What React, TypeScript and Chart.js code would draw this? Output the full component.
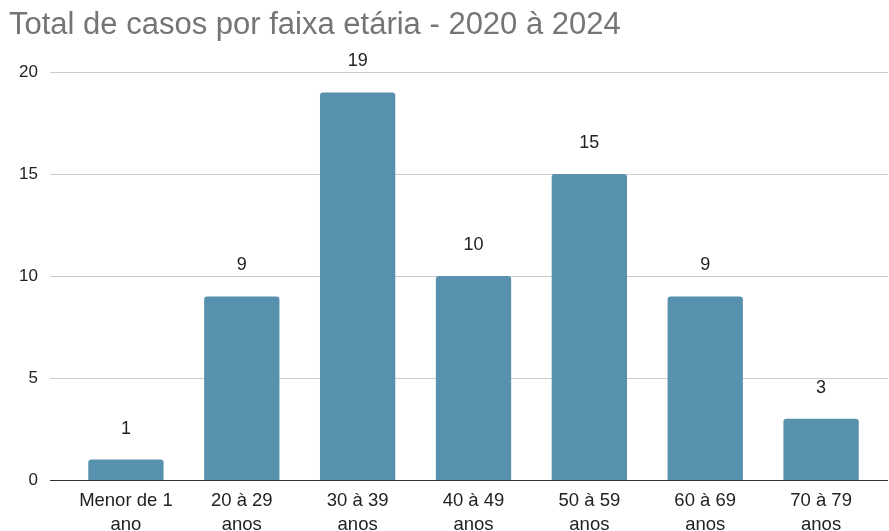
import React, { useEffect, useRef } from "react";
import { Chart, registerables } from "chart.js";

Chart.register(...registerables);

const TITLE = "Total de casos por faixa etária - 2020 à 2024";
const CATEGORIES: string[][] = [
  ["Menor de 1", "ano"],
  ["20 à 29", "anos"],
  ["30 à 39", "anos"],
  ["40 à 49", "anos"],
  ["50 à 59", "anos"],
  ["60 à 69", "anos"],
  ["70 à 79", "anos"],
];
const CASES: number[] = [1, 9, 19, 10, 15, 9, 3];
const Y_MAX = 20;
const Y_STEP = 5;

const FONT = "'Liberation Sans', Arial, sans-serif";
const BAR_COLOR = "#5891ad";

const decorPlugin = {
  id: "decor",
  beforeDatasetsDraw(chart: any) {
    const { ctx, scales } = chart;
    const y = scales.y;
    const x0 = 50;
    const x1 = chart.width - 1;
    ctx.save();
    y.ticks.forEach((t: any) => {
      const py = Math.round(y.getPixelForValue(t.value)) + 0.5;
      ctx.strokeStyle = t.value === 0 ? "#333333" : "#cccccc";
      ctx.lineWidth = 1;
      ctx.beginPath();
      ctx.moveTo(x0, py);
      ctx.lineTo(x1, py);
      ctx.stroke();
    });
    ctx.restore();
  },
  afterDatasetsDraw(chart: any) {
    const { ctx } = chart;
    const meta = chart.getDatasetMeta(0);
    ctx.save();
    ctx.font = `18px ${FONT}`;
    ctx.fillStyle = "#222222";
    ctx.textAlign = "center";
    ctx.textBaseline = "middle";
    meta.data.forEach((bar: any, i: number) => {
      ctx.fillText(String(CASES[i]), bar.x, bar.y - 31);
    });
    ctx.font = `31px ${FONT}`;
    ctx.fillStyle = "#757575";
    ctx.textAlign = "left";
    ctx.textBaseline = "alphabetic";
    ctx.fillText(TITLE, 9, 34);
    ctx.restore();
  },
};

export default function App() {
  const ref = useRef<HTMLCanvasElement | null>(null);
  useEffect(() => {
    document.body.style.margin = "0";
    const canvas = ref.current!;
    const chart = new Chart(canvas, {
      type: "bar",
      data: {
        labels: CATEGORIES,
        datasets: [
          {
            data: CASES,
            backgroundColor: BAR_COLOR,
            borderRadius: 3,
            borderSkipped: "bottom",
            barPercentage: 0.65,
            categoryPercentage: 1,
          },
        ],
      },
      options: {
        responsive: false,
        animation: false,
        maintainAspectRatio: false,
        layout: { padding: { top: 72, right: 10, left: 0, bottom: 0 } },
        plugins: {
          legend: { display: false },
          title: { display: false },
          tooltip: { enabled: false },
        },
        scales: {
          x: {
            grid: { display: false, drawTicks: false },
            border: { display: false },
            ticks: {
              color: "#222222",
              font: { family: FONT, size: 18.5, lineHeight: 1.3 },
              padding: 9,
              maxRotation: 0,
              autoSkip: false,
            },
            afterFit(scale: any) {
              scale.height = 51;
            },
          },
          y: {
            min: 0,
            max: Y_MAX,
            grid: { display: false, drawTicks: false },
            border: { display: false },
            ticks: {
              stepSize: Y_STEP,
              color: "#222222",
              font: { family: FONT, size: 17 },
              padding: 30,
            },
            afterFit(scale: any) {
              scale.width = 68;
            },
          },
        },
      },
      plugins: [decorPlugin],
    });
    return () => chart.destroy();
  }, []);
  return (
    <div style={{ width: 889, height: 531 }}>
      <canvas ref={ref} width={889} height={531} />
    </div>
  );
}
